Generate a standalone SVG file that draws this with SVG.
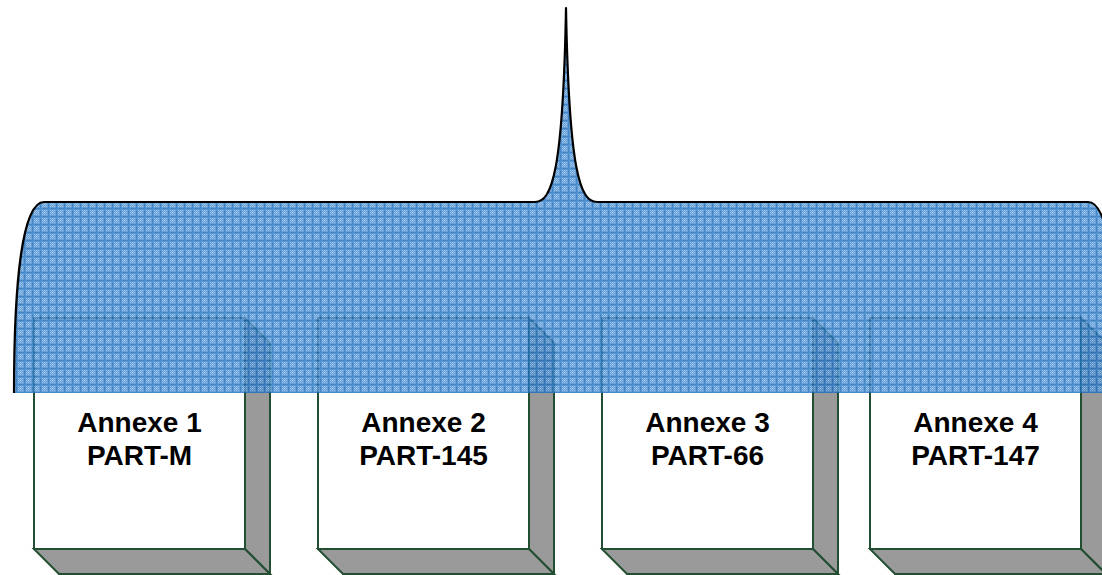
<svg xmlns="http://www.w3.org/2000/svg" width="1102" height="575" viewBox="0 0 1102 575">
  <style>
    .front { fill: #ffffff; stroke: #224e32; stroke-width: 2; }
    .shade { fill: #9a9a9a; stroke: #224e32; stroke-width: 2; stroke-linejoin: miter; }
    .label { font-family: "Liberation Sans", Arial, sans-serif; font-size: 28px; font-weight: bold; fill: #000000; text-anchor: middle; }
    .brace-fill { fill: url(#weave); opacity: 0.82; }
    .brace-line { fill: none; stroke: #000000; stroke-width: 2.2; stroke-linejoin: round; }
  </style>
  <defs>
    <!-- small woven blue texture used by the brace -->
    <pattern id="weave" x="0" y="0" width="8" height="8" patternUnits="userSpaceOnUse">
      <rect width="8" height="8" fill="#4689cd"/>
      <rect x="2" y="2" width="1" height="1" fill="#86b8e6"/>
      <rect x="4" y="2" width="1" height="1" fill="#86b8e6"/>
      <rect x="6" y="2" width="1" height="1" fill="#86b8e6"/>
      <rect x="3" y="3" width="1" height="1" fill="#86b8e6"/>
      <rect x="5" y="3" width="1" height="1" fill="#86b8e6"/>
      <rect x="2" y="4" width="1" height="1" fill="#86b8e6"/>
      <rect x="4" y="4" width="1" height="1" fill="#86b8e6"/>
      <rect x="6" y="4" width="1" height="1" fill="#86b8e6"/>
      <rect x="3" y="5" width="1" height="1" fill="#86b8e6"/>
      <rect x="5" y="5" width="1" height="1" fill="#86b8e6"/>
      <rect x="2" y="6" width="1" height="1" fill="#86b8e6"/>
      <rect x="4" y="6" width="1" height="1" fill="#86b8e6"/>
      <rect x="6" y="6" width="1" height="1" fill="#86b8e6"/>
      <rect x="0" y="0" width="8" height="1" fill="#1a6bbc"/>
      <rect x="0" y="0" width="1" height="8" fill="#1a6bbc"/>
      <rect x="0" y="1" width="8" height="1" fill="#3780c9"/>
      <rect x="1" y="0" width="1" height="8" fill="#3780c9"/>
    </pattern>
  </defs>

  <!-- annex boxes (3D blocks) -->
  <g id="annexe-1">
    <polygon class="shade" points="245,318 270,343 270,574 245,549"/>
    <polygon class="shade" points="34,549 245,549 270,574 59,574"/>
    <rect class="front" x="34" y="318" width="211" height="231"/>
    <text class="label" x="139.5" y="432">Annexe 1</text>
    <text class="label" x="139.5" y="465">PART-M</text>
  </g>
  <g id="annexe-2">
    <polygon class="shade" points="529,318 554,343 554,574 529,549"/>
    <polygon class="shade" points="318,549 529,549 554,574 343,574"/>
    <rect class="front" x="318" y="318" width="211" height="231"/>
    <text class="label" x="423.5" y="432">Annexe 2</text>
    <text class="label" x="423.5" y="465">PART-145</text>
  </g>
  <g id="annexe-3">
    <polygon class="shade" points="813,318 838,343 838,574 813,549"/>
    <polygon class="shade" points="602,549 813,549 838,574 627,574"/>
    <rect class="front" x="602" y="318" width="211" height="231"/>
    <text class="label" x="707.5" y="432">Annexe 3</text>
    <text class="label" x="707.5" y="465">PART-66</text>
  </g>
  <g id="annexe-4">
    <polygon class="shade" points="1081,318 1106,343 1106,574 1081,549"/>
    <polygon class="shade" points="870,549 1081,549 1106,574 895,574"/>
    <rect class="front" x="870" y="318" width="211" height="231"/>
    <text class="label" x="975.5" y="432">Annexe 4</text>
    <text class="label" x="975.5" y="465">PART-147</text>
  </g>

  <!-- grouping brace laid over the boxes -->
  <g id="connectors">
    <path class="brace-fill" d="M14,393 C14,285 22,202 44,202 L535,202 C552,202 563,172 566,8 C569,172 580,202 597,202 L1088,202 C1110,202 1118,285 1118,393 Z"/>
    <path class="brace-line" d="M14,393 C14,285 22,202 44,202 L535,202 C552,202 563,172 566,8 C569,172 580,202 597,202 L1088,202 C1110,202 1118,285 1118,393"/>
  </g>
</svg>
